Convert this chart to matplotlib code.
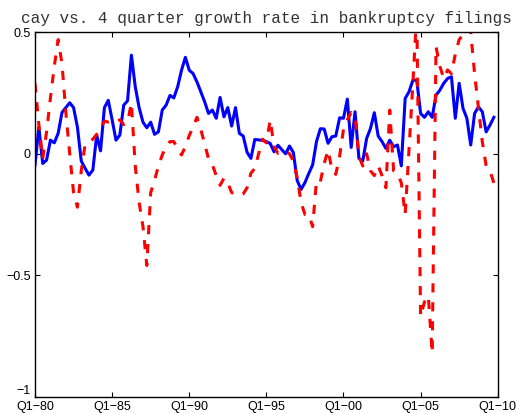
import numpy as np
import matplotlib
matplotlib.use("Agg")
import matplotlib.pyplot as plt

# quarterly values, 1980Q1 .. 2009Q4
cay = [-0.047, 0.11, -0.04, -0.026, 0.056, 0.045, 0.084, 0.17, 0.19, 0.21,
       0.19, 0.11, -0.03, -0.06, -0.088, -0.067, 0.077, 0.012, 0.19, 0.22,
       0.14, 0.056, 0.077, 0.2, 0.218, 0.406, 0.276, 0.19, 0.13, 0.107,
       0.13, 0.08, 0.09, 0.18, 0.2, 0.24, 0.23, 0.276, 0.344, 0.397,
       0.344, 0.33, 0.296, 0.255, 0.214, 0.166, 0.18, 0.146, 0.232, 0.152,
       0.19, 0.114, 0.19, 0.084, 0.073, 0.006, -0.019, 0.059, 0.057, 0.055,
       0.05, 0.042, 0.008, 0.035, 0.017, 0.0, 0.032, 0.005, -0.11, -0.147,
       -0.119, -0.081, -0.046, 0.05, 0.103, 0.102, 0.043, 0.07, 0.073, 0.148,
       0.146, 0.225, 0.026, 0.173, -0.019, -0.03, 0.063, 0.104, 0.169, 0.073,
       0.05, 0.022, 0.056, 0.029, 0.036, -0.05, 0.228, 0.255, 0.303, 0.303,
       0.166, 0.15, 0.173, 0.15, 0.241, 0.262, 0.29, 0.31, 0.317, 0.146,
       0.29, 0.187, 0.146, 0.036, 0.166, 0.193, 0.173, 0.09, 0.118, 0.15]

bankr = [0.29, 0.12, -0.02, 0.09, 0.23, 0.36, 0.47, 0.37, 0.17, 0.0,
         -0.16, -0.22, -0.07, 0.04, 0.05, 0.06, 0.08, 0.10, 0.135, 0.13,
         0.13, 0.13, 0.14, 0.12, 0.13, 0.21, -0.05, -0.2, -0.3, -0.46,
         -0.16, -0.11, -0.05, -0.005, 0.03, 0.05, 0.05, 0.02, -0.005, 0.03,
         0.075, 0.11, 0.15, 0.1, 0.04, -0.02, -0.045, -0.09, -0.13, -0.10,
         -0.12, -0.16, -0.165, -0.17, -0.165, -0.14, -0.08, -0.06, 0.0, 0.06,
         0.045, 0.139, 0.03, 0.002, 0.01, 0.01, 0.0, -0.03, -0.1, -0.2,
         -0.25, -0.25, -0.3, -0.11, -0.115, -0.04, 0.015, -0.065, -0.085, -0.01,
         0.1, 0.14, 0.17, 0.155, -0.01, -0.05, 0.0, -0.07, -0.09, -0.05,
         -0.09, -0.14, 0.18, -0.07, -0.08, -0.12, -0.25, 0.02, 0.29, 0.58,
         -0.67, -0.61, -0.585, -0.82, 0.44, 0.36, 0.31, 0.345, 0.33, 0.41,
         0.47, 0.49, 0.52, 0.5, 0.33, 0.19, 0.05, -0.05, -0.07, -0.12]

xtick_pos = [0, 20, 40, 60, 80, 100, 120]
xtick_labels = ['Q1\u221280', 'Q1\u221285', 'Q1\u221290', 'Q1\u221295',
                'Q1\u221200', 'Q1\u221205', 'Q1\u221210']
ytick_pos = [-1, -0.5, 0, 0.5]
ytick_labels = ['\u22121', '\u22120.5', '0', '0.5']

plt.rcParams['font.family'] = ['Liberation Sans', 'DejaVu Sans']

fig = plt.figure(figsize=(5.17, 4.13), dpi=100)
ax = fig.add_axes([0.0677, 0.0395, 0.895, 0.8823])

q = np.arange(len(cay))
ax.plot(q, cay, color='#0000ff', lw=2.2)
ax.plot(np.arange(len(bankr)), bankr, color='#ff0000', lw=2.2,
        ls=(0, (3.0, 3.2)))

ax.set_xlim(0, 120)
ax.set_ylim(-1, 0.5)
ax.set_xticks(xtick_pos)
ax.set_xticklabels(xtick_labels)
ax.set_yticks(ytick_pos)
ax.set_yticklabels(ytick_labels)
ax.tick_params(direction='in', length=3.5, width=0.8, labelsize=9,
               top=True, right=True)
ax.tick_params(axis='x', pad=3)
ax.tick_params(axis='y', pad=3)
# keep "-1" from touching the first date label
ax.get_yticklabels()[0].set_verticalalignment('bottom')
for s in ax.spines.values():
    s.set_linewidth(1.0)

ax.set_title('cay vs. 4 quarter growth rate in bankruptcy filings',
             family='Liberation Mono', fontsize=11.5, color='#333333', pad=7)

fig.savefig('out.png', dpi=100)
